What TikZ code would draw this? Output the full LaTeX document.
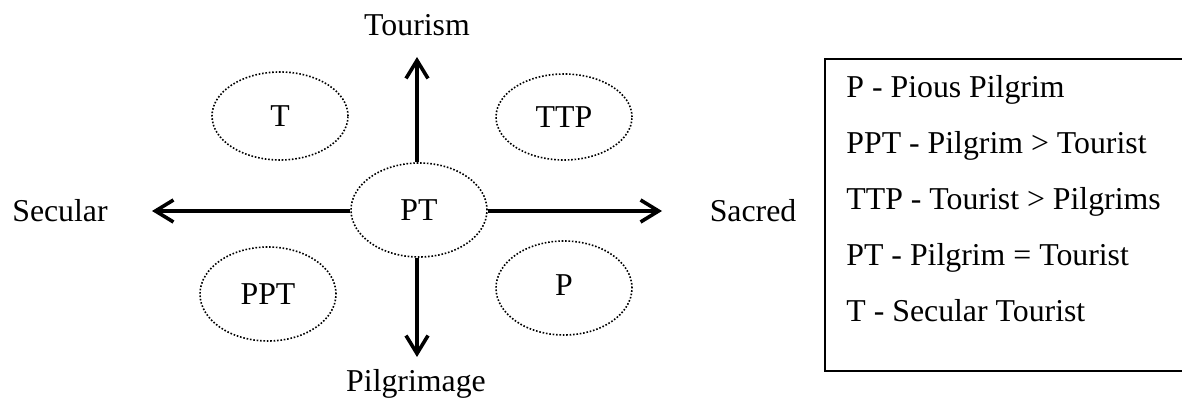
\documentclass[tikz,border=0pt]{standalone}
\usepackage{fontspec}
\setmainfont{Liberation Serif}
\usetikzlibrary{shapes.geometric,arrows.meta}
\tikzset{
  blob/.style={ellipse, draw, line width=0.8pt, dash pattern=on 0.8pt off 0.9pt, inner sep=0pt, minimum width=68pt, minimum height=46pt},
  axis/.style={line width=1.8pt, -{Straight Barb[length=9pt,width=11pt,line width=1.8pt]}},
  lbl/.style={inner sep=0pt},
  every node/.style={font=\fontsize{15.9pt}{18pt}\selectfont}
}
\begin{document}
\begin{tikzpicture}[x=0.5pt,y=-0.5pt]
\useasboundingbox (0,0) rectangle (1182,410);
% centre and quadrant ellipses
\node[blob, minimum height=47pt] (PT) at (419,210) {PT};
\node[blob, minimum height=44pt] (T) at (280,116) {T};
\node[blob, minimum height=43pt] (TTP) at (564,117) {TTP};
\node[blob, minimum height=47pt] (PPT) at (268,294) {PPT};
\node[blob, minimum height=47pt] (P) at (564,288) {\raisebox{3pt}{P}};
% axis end points
\coordinate (left) at (152,211);
\coordinate (right) at (662,211);
\coordinate (top) at (417,57);
\coordinate (bottom) at (417,357);
\draw[axis] (PT.west |- left) -- (left);
\draw[axis] (PT.east |- right) -- (right);
\draw[axis] (PT.north -| top) -- (top);
\draw[axis] (PT.south -| bottom) -- (bottom);
% axis labels
\node[lbl] (sec) at (60,211) {Secular};
\node[lbl] (sac) at (753,211) {Sacred};
\node[lbl] (tour) at (417,25) {Tourism};
\node[lbl] (pil) at (416,384) {Pilgrimage};
% legend
\draw[line width=1pt] (825,59) rectangle (1195,371);
\node[lbl, anchor=base west] (l1) at (846,98) {P - Pious Pilgrim};
\node[lbl, anchor=base west] (l2) at (846,154) {PPT - Pilgrim > Tourist};
\node[lbl, anchor=base west] (l3) at (846,210) {TTP - Tourist > Pilgrims};
\node[lbl, anchor=base west] (l4) at (846,266) {PT - Pilgrim = Tourist};
\node[lbl, anchor=base west] (l5) at (846,322) {T - Secular Tourist};
\end{tikzpicture}
\end{document}
